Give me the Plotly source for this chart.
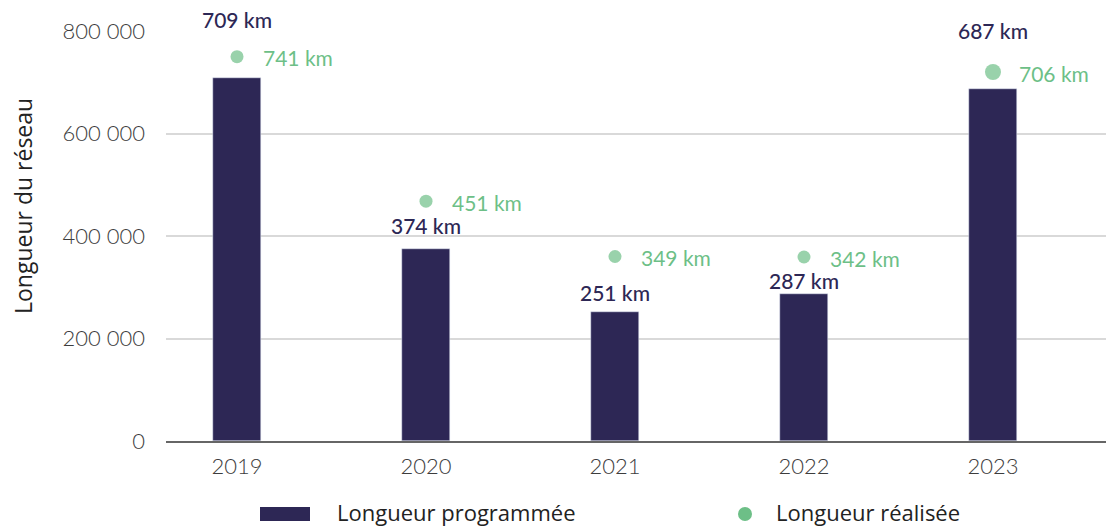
import plotly.graph_objects as go

# ---------------- data ----------------
years = ["2019", "2020", "2021", "2022", "2023"]
programmee = [709000, 374000, 251000, 287000, 687000]          # bar heights (m)
programmee_labels = ["709 km", "374 km", "251 km", "287 km", "687 km"]
realisee = [750000, 468000, 360000, 359000, 720000]            # dot positions
realisee_labels = ["741 km", "451 km", "349 km", "342 km", "706 km"]
y_ticks = [0, 200000, 400000, 600000, 800000]
y_ticktext = ["0", "200 000", "400 000", "600 000", "800 000"]

# ---------------- style ----------------
NAVY = "#2d2755"
GREEN = "#6dbf87"
W, H = 1106, 526
ML, MR, MT, MB = 166, 0, 31, 85
bar_label_shift = [58, 24, 20, 13, 58]   # px above bar top
dot_sizes = [13, 13, 13, 13, 16]
TICK_FONT = dict(family="Lato", size=22, color="#3d3d3d", weight=300)

fig = go.Figure()
fig.add_trace(go.Bar(x=years, y=programmee, width=0.25, marker_color=NAVY,
                     name="Longueur programmée", showlegend=False))
fig.add_trace(go.Scatter(x=years, y=realisee, mode="markers",
                         marker=dict(color=GREEN, size=dot_sizes, line_width=0),
                         name="Longueur réalisée", showlegend=False, cliponaxis=False))

for i, yr in enumerate(years):
    fig.add_annotation(x=i, y=programmee[i], text=programmee_labels[i], showarrow=False,
                       xanchor="center", yanchor="middle", yshift=bar_label_shift[i],
                       font=dict(family="Lato", size=21, color=NAVY, weight=500))
    fig.add_annotation(x=i, y=realisee[i], text=realisee_labels[i], showarrow=False,
                       xanchor="left", yanchor="middle", xshift=24, yshift=-1,
                       font=dict(family="Lato", size=21, color=GREEN))

# ---------------- manual legend / title (pixel → paper helper) ----------------
PW, PH = W - ML - MR, H - MT - MB
def px(x):
    return (x - ML) / PW
def py(y):
    return (H - MB - y) / PH

fig.add_shape(type="rect", xref="paper", yref="paper", x0=px(260), x1=px(310),
              y0=py(521), y1=py(507), fillcolor=NAVY, line_width=0)
fig.add_shape(type="circle", xref="paper", yref="paper", x0=px(738), x1=px(752),
              y0=py(521), y1=py(507), fillcolor=GREEN, line_width=0)
fig.add_annotation(xref="paper", yref="paper", x=px(335), y=py(512), text="Longueur programmée",
                   showarrow=False, xanchor="left", yanchor="middle",
                   font=dict(family="Open Sans", size=22, color="#222222"))
fig.add_annotation(xref="paper", yref="paper", x=px(774), y=py(512), text="Longueur réalisée",
                   showarrow=False, xanchor="left", yanchor="middle",
                   font=dict(family="Open Sans", size=22, color="#222222"))
fig.add_annotation(xref="paper", yref="paper", x=px(23), y=py(206), text="Longueur du réseau",
                   showarrow=False, textangle=-90, xanchor="center", yanchor="middle",
                   font=dict(family="Open Sans", size=23, color="#222222"))

fig.update_layout(
    width=W, height=H, margin=dict(l=ML, r=MR, t=MT, b=MB, pad=0),
    plot_bgcolor="white", paper_bgcolor="white", bargap=0,
    showlegend=False,
    xaxis=dict(type="category", range=[-0.3757, 4.598], showgrid=False,
               showline=True, linecolor="#666666", linewidth=2,
               tickfont=TICK_FONT, ticks="", ticklabelstandoff=5),
    yaxis=dict(range=[0, 800000], tickvals=y_ticks, ticktext=y_ticktext,
               showgrid=True, gridcolor="#d9d9d9", gridwidth=2, zeroline=False,
               tickfont=TICK_FONT, ticks="", ticklabelstandoff=20),
)

fig.write_html("out.html", config={"displayModeBar": False},
               post_script="document.body.style.margin='0';document.body.style.overflow='hidden';")
